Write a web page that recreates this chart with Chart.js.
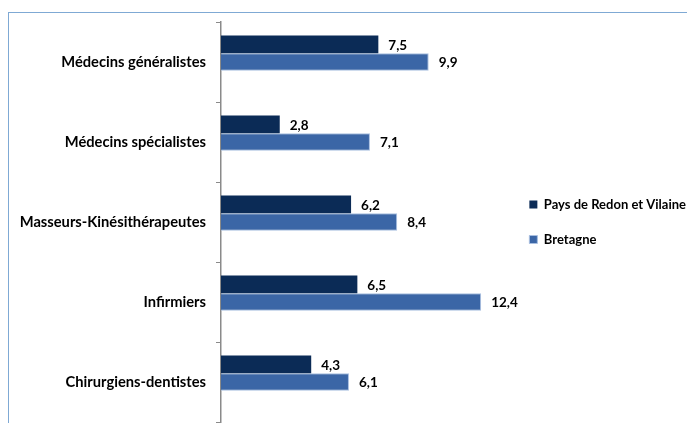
<!DOCTYPE html>
<html>
<head>
<meta charset="utf-8">
<script src="https://cdn.jsdelivr.net/npm/chart.js@4.4.1/dist/chart.umd.min.js"></script>
<style>
  html, body { margin: 0; padding: 0; background: #fff; width: 687px; height: 423px; overflow: hidden; }
  #frame {
    position: absolute; left: 8px; top: 12px;
    width: 710px; height: 440px;
    border-left: 1.5px solid #7fa9d4; border-top: 1.5px solid #7fa9d4;
  }
  #wrap { position: absolute; left: 0; top: 0; width: 687px; height: 430px; }
</style>
</head>
<body>
<div id="frame"><div id="wrap"><canvas id="chart"></canvas></div></div>
<script>
const categories = ['Médecins généralistes', 'Médecins spécialistes', 'Masseurs-Kinésithérapeutes', 'Infirmiers', 'Chirurgiens-dentistes'];
const seriesNames = ['Pays de Redon et Vilaine', 'Bretagne'];
const redonValues = [7.5, 2.8, 6.2, 6.5, 4.3];
const bretagneValues = [9.9, 7.1, 8.4, 12.4, 6.1];
const xMax = 13.65;

const fontFamily = 'Lato, "Open Sans", sans-serif';

// values written just right of each bar, with a decimal comma
const barValues = {
  id: 'barValues',
  afterDatasetsDraw(chart) {
    const ctx = chart.ctx;
    ctx.save();
    ctx.font = 'bold 13.5px ' + fontFamily;
    ctx.fillStyle = '#000';
    ctx.textAlign = 'left';
    ctx.textBaseline = 'middle';
    chart.data.datasets.forEach((ds, i) => {
      chart.getDatasetMeta(i).data.forEach((bar, j) => {
        const v = ds.data[j];
        if (v == null) return;
        ctx.fillText(v.toFixed(1).replace('.', ','), bar.x + 10, bar.y + 1);
      });
    });
    ctx.restore();
  }
};

new Chart(document.getElementById('chart'), {
  type: 'bar',
  data: {
    labels: categories,
    datasets: [
      { label: seriesNames[0], data: redonValues, backgroundColor: '#0b2b56', borderColor: '#0b2b56', borderWidth: 0 },
      { label: seriesNames[1], data: bretagneValues, backgroundColor: '#3b66a6', borderColor: '#a9bfe0', borderWidth: 1 },
      // empty slot so the Bretagne bar sits on the category centre, as in the original
      { label: '', data: categories.map(() => null), backgroundColor: 'rgba(0,0,0,0)' }
    ]
  },
  options: {
    indexAxis: 'y',
    responsive: true,
    maintainAspectRatio: false,
    animation: false,
    categoryPercentage: 0.66,
    barPercentage: 1,
    layout: { padding: { top: 9, bottom: 21, left: 0, right: 0 } },
    scales: {
      x: { display: false, min: 0, max: xMax },
      y: {
        afterFit: (s) => { s.width = 212; s.paddingTop = 0; s.paddingBottom = 0; },
        border: { display: true, color: '#8a8a8a', width: 1.5 },
        grid: { display: true, offset: true, drawOnChartArea: false, tickLength: 5, color: '#8a8a8a', lineWidth: 1 },
        ticks: { color: '#000', padding: 10, font: { family: fontFamily, size: 14.7, weight: 'bold' } }
      }
    },
    plugins: {
      legend: {
        position: 'right',
        maxWidth: 300,
        labels: {
          boxWidth: 8, boxHeight: 8, padding: 22, color: '#000',
          font: { family: fontFamily, size: 13, weight: 'bold' },
          filter: (item) => item.text !== ''
        }
      },
      tooltip: { enabled: false }
    }
  },
  plugins: [barValues]
});
</script>
</body>
</html>
